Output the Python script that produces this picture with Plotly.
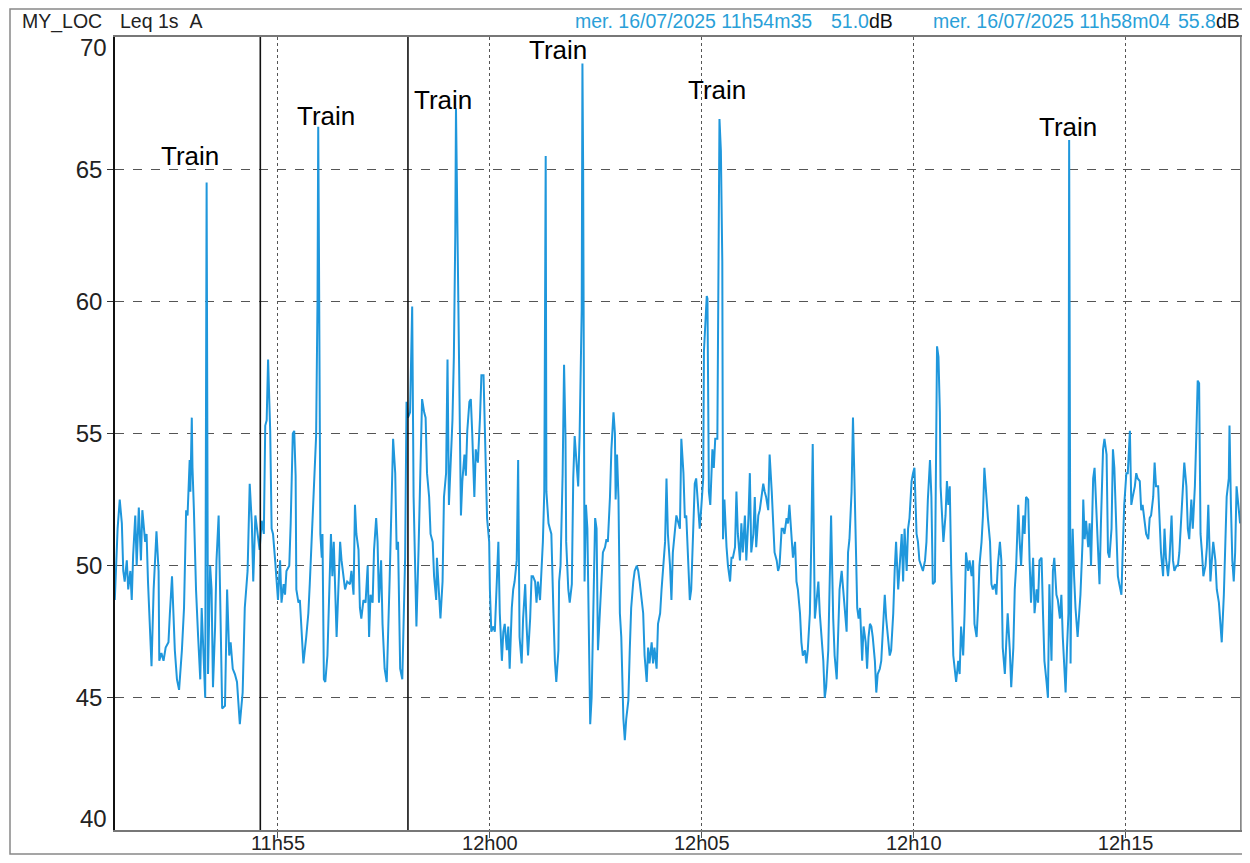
"""
Leq 1s A trace at MY_LOC, 16/07/2025, with two cursors and train pass-bys.
Values read off a printed/scanned sound level meter report.
"""

import pandas as pd
import plotly.graph_objects as go

DAY = "2025-07-16"
T0 = pd.Timestamp(f"{DAY} 11:51:00")

# seconds after 11:51:00 / Leq 1s in dB(A), split into blocks of ~4.5 minutes
t_a = [9, 13, 16, 19, 21, 23, 26, 28, 31, 33, 35, 38, 40, 43, 46, 48, 52, 54, 56, 59,
       61, 64, 66, 68, 71, 72, 75, 78, 81, 85, 87, 90, 92, 94, 97, 100, 104, 107, 110, 112,
       115, 116, 118, 119, 121, 124, 127, 130, 132, 134, 137, 139, 141, 144, 146, 148, 151, 153, 156, 158,
       161, 165, 168, 171, 173, 176, 179, 182, 186, 190, 193, 197, 200, 203, 205, 208, 211, 214, 217, 220,
       222, 224, 226, 229, 231, 233, 236, 238, 240, 243, 245, 248, 250, 252, 256, 258, 261, 263, 265, 266,
       269]
leq_a = [48.7, 51.4, 52.5, 51.6, 49.8, 49.4, 50.2, 49.1, 49.8, 48.7, 50.4, 51.9, 50.0, 52.2, 50.2, 52.1, 50.9, 51.2, 49.4, 47.3,
         46.2, 49.1, 50.5, 51.3, 49.8, 46.4, 46.7, 46.4, 46.9, 47.1, 48.2, 49.6, 48.2, 46.8, 45.7, 45.3, 46.8, 48.4, 52.1, 51.9,
         54.0, 52.8, 55.6, 53.7, 52.1, 49.1, 47.3, 45.7, 48.4, 46.8, 45.0, 64.5, 45.9, 50.0, 49.1, 45.4, 47.7, 50.2, 51.9, 49.1,
         44.6, 44.7, 49.1, 46.6, 47.1, 46.1, 45.9, 45.6, 44.0, 45.2, 48.4, 49.8, 53.1, 51.6, 49.4, 51.9, 51.3, 50.6, 51.7, 51.2,
         55.3, 55.5, 57.8, 55.1, 51.4, 51.2, 50.2, 49.6, 48.7, 50.2, 48.6, 49.3, 48.9, 49.8, 50.0, 51.6, 55.0, 55.1, 53.4, 49.1,
         48.6]

t_b = [271, 276, 280, 283, 285, 288, 291, 294, 296, 297, 298, 300, 302, 303, 305, 307, 310, 312, 315, 317,
       319, 323, 325, 328, 330, 332, 335, 338, 342, 344, 347, 349, 351, 354, 356, 358, 361, 364, 367, 369,
       371, 374, 376, 379, 381, 383, 386, 388, 391, 394, 396, 398, 401, 403, 406, 408, 410, 413, 416, 420,
       422, 424, 427, 430, 432, 434, 436, 439, 442, 444, 447, 449, 451, 454, 456, 459, 461, 464, 465, 468,
       470, 473, 475, 478, 480, 482, 485, 487, 489, 491, 492, 494, 497, 499, 501, 504, 506, 508, 511, 513,
       515, 518, 520, 523, 526, 528, 531, 533, 536, 539]
leq_b = [48.7, 46.3, 47.3, 48.2, 49.3, 51.1, 53.0, 54.9, 60.1, 66.6, 62.0, 51.2, 50.3, 51.2, 45.7, 45.6, 46.6, 48.2, 51.2, 49.6,
         50.9, 47.3, 49.1, 50.9, 50.2, 49.8, 49.1, 49.4, 49.3, 49.8, 48.9, 52.3, 51.2, 50.6, 48.4, 48.0, 48.7, 48.6, 50.0, 47.3,
         48.9, 48.6, 50.6, 51.8, 50.9, 48.6, 50.2, 47.8, 46.1, 45.6, 48.0, 49.4, 52.6, 54.8, 53.5, 50.6, 50.9, 46.1, 45.7, 50.3,
         56.2, 55.6, 55.8, 59.8, 52.6, 50.2, 47.7, 50.6, 54.4, 56.3, 55.8, 55.6, 53.5, 52.6, 51.2, 50.9, 49.6, 48.7, 50.3, 48.9,
         48.0, 49.4, 52.6, 53.5, 57.8, 52.3, 54.6, 55.5, 57.9, 62.5, 67.3, 62.2, 54.8, 51.9, 53.2, 54.2, 53.4, 55.1, 56.2, 56.3,
         55.0, 52.6, 54.4, 53.9, 55.6, 57.2, 57.2, 55.1, 51.8, 50.9]

t_c = [540, 542, 545, 547, 549, 552, 554, 557, 559, 561, 564, 566, 568, 571, 573, 575, 578, 580, 582, 585,
       587, 590, 592, 594, 597, 599, 601, 604, 606, 608, 611, 613, 615, 617, 619, 620, 623, 625, 627, 630,
       632, 634, 637, 638, 640, 643, 645, 647, 648, 651, 653, 656, 658, 660, 663, 665, 667, 670, 671, 672,
       674, 676, 678, 680, 682, 684, 686, 689, 691, 693, 696, 698, 700, 703, 705, 707, 710, 712, 715, 717,
       718, 720, 722, 724, 726, 729, 731, 733, 736, 738, 740, 743, 745, 748, 750, 752, 755, 757, 759, 762,
       764, 766, 769, 771, 773, 776, 778, 781, 783, 785, 788, 790, 792, 795, 797, 799, 802, 804, 806]
leq_c = [49.1, 47.5, 47.7, 47.5, 49.1, 50.9, 48.2, 46.4, 47.5, 47.8, 46.8, 47.7, 46.1, 48.4, 49.1, 49.4, 50.2, 54.0, 47.3, 46.3,
         48.0, 49.3, 47.7, 46.6, 48.0, 49.6, 49.6, 49.4, 48.6, 49.4, 48.7, 49.8, 50.9, 52.8, 65.5, 52.8, 51.6, 51.4, 51.2, 48.2,
         46.4, 45.6, 46.8, 49.4, 50.0, 53.5, 57.6, 54.9, 50.9, 49.1, 48.6, 49.3, 53.3, 54.9, 53.7, 53.0, 54.9, 59.7, 69.0, 65.0,
         49.4, 52.3, 51.4, 48.2, 44.0, 45.0, 48.2, 51.8, 51.4, 46.8, 48.4, 49.8, 50.5, 50.7, 51.0, 50.9, 52.6, 54.4, 55.8, 55.0,
         52.5, 54.2, 52.6, 48.2, 47.3, 44.2, 43.4, 44.2, 44.9, 46.8, 48.4, 49.4, 49.8, 50.0, 49.8, 49.4, 48.7, 48.2, 46.6, 45.6,
         46.9, 46.3, 47.1, 46.3, 46.9, 46.1, 47.8, 48.2, 49.1, 49.8, 50.9, 53.3, 51.2, 50.0, 48.7, 50.5, 51.4, 51.9, 51.7]

t_d = [809, 811, 814, 816, 818, 821, 823, 825, 828, 830, 832, 835, 837, 839, 842, 843, 845, 847, 848, 850,
       852, 855, 857, 859, 862, 864, 865, 867, 869, 870, 872, 875, 877, 880, 882, 884, 887, 889, 891, 894,
       896, 898, 901, 903, 906, 908, 910, 913, 915, 917, 920, 922, 924, 927, 929, 931, 934, 936, 939, 941,
       943, 946, 948, 950, 953, 955, 957, 960, 962, 964, 967, 969, 972, 974, 976, 979, 981, 983, 986, 988,
       990, 993, 995, 997, 1000, 1002, 1005, 1007, 1009, 1012, 1014, 1016, 1019, 1021, 1023, 1026, 1028, 1031, 1033, 1035,
       1038, 1040, 1042, 1045, 1047, 1049, 1052, 1054, 1056, 1058, 1060, 1062, 1064, 1067, 1069, 1072, 1074, 1076]
leq_d = [51.4, 54.8, 53.5, 51.8, 51.9, 50.0, 48.7, 49.1, 51.8, 53.1, 53.3, 51.9, 51.4, 52.1, 53.3, 58.1, 59.0, 60.2, 60.1, 52.8,
         52.3, 54.4, 53.7, 54.8, 54.8, 62.0, 66.9, 65.7, 61.5, 51.0, 52.5, 50.7, 50.0, 49.4, 50.3, 50.3, 50.7, 52.8, 51.2, 50.2,
         51.6, 50.5, 51.9, 50.2, 51.8, 53.5, 50.5, 51.2, 52.6, 50.7, 51.9, 52.1, 52.6, 53.1, 52.8, 52.6, 52.1, 54.2, 52.8, 51.6,
         50.5, 50.2, 49.8, 50.0, 51.4, 51.4, 51.2, 51.8, 51.6, 52.3, 50.9, 50.3, 50.9, 49.4, 49.1, 48.2, 47.1, 46.6, 46.8, 46.3,
         46.8, 48.2, 50.9, 54.6, 48.0, 48.7, 49.4, 48.2, 47.5, 46.4, 45.0, 45.4, 46.8, 49.1, 51.9, 48.0, 46.6, 45.7, 47.3, 49.1,
         49.8, 49.1, 48.4, 47.5, 50.5, 51.0, 52.8, 55.6, 53.3, 50.0, 48.4, 48.0, 48.4, 46.4, 47.7, 47.1, 46.1, 47.3]

t_e = [1078, 1080, 1082, 1085, 1087, 1089, 1092, 1094, 1097, 1099, 1101, 1104, 1106, 1108, 1111, 1113, 1115, 1118, 1120, 1123,
       1125, 1127, 1130, 1132, 1134, 1137, 1139, 1141, 1144, 1146, 1148, 1151, 1153, 1156, 1158, 1160, 1163, 1165, 1167, 1170,
       1172, 1173, 1175, 1177, 1178, 1180, 1182, 1185, 1187, 1189, 1191, 1193, 1196, 1198, 1200, 1203, 1205, 1207, 1210, 1212,
       1214, 1217, 1219, 1222, 1224, 1226, 1229, 1231, 1233, 1236, 1238, 1240, 1243, 1245, 1248, 1250, 1252, 1255, 1257, 1259,
       1262, 1264, 1266, 1269, 1271, 1273, 1276, 1278, 1281, 1283, 1285, 1288, 1290, 1292, 1295, 1297, 1299, 1302, 1304, 1306,
       1309, 1311, 1314, 1316, 1318, 1321, 1323, 1325, 1328, 1330, 1332, 1335, 1337, 1339, 1342, 1344]
leq_e = [47.8, 47.7, 47.3, 46.4, 45.2, 45.9, 46.1, 46.4, 47.7, 48.9, 48.0, 47.3, 46.6, 46.8, 48.2, 49.8, 50.9, 49.1, 50.0, 51.2,
         49.4, 51.4, 49.8, 51.4, 51.8, 53.2, 53.5, 53.7, 51.2, 50.9, 50.2, 50.0, 49.8, 50.2, 50.9, 52.5, 54.0, 52.6, 49.3, 49.4,
         54.4, 58.3, 57.9, 55.8, 53.0, 51.6, 50.9, 51.9, 53.2, 52.3, 53.0, 50.0, 46.6, 46.1, 45.6, 46.4, 45.9, 47.7, 46.6, 48.2,
         50.5, 49.8, 50.2, 49.6, 50.2, 47.8, 47.3, 48.4, 50.0, 50.9, 51.9, 53.7, 52.3, 51.8, 50.9, 49.3, 49.1, 49.3, 48.9, 50.0,
         50.9, 50.2, 46.9, 45.9, 47.1, 48.2, 46.8, 45.4, 46.9, 49.1, 50.0, 52.3, 50.9, 50.0, 51.9, 51.2, 52.6, 52.5, 50.2, 48.6,
         50.3, 48.2, 49.1, 48.6, 50.2, 50.3, 48.2, 46.4, 45.6, 45.0, 49.3, 46.4, 49.8, 50.3, 48.9, 48.7]

t_f = [1347, 1349, 1351, 1354, 1355, 1357, 1359, 1360, 1362, 1363, 1365, 1367, 1369, 1372, 1374, 1376, 1379, 1380, 1382, 1384,
       1387, 1389, 1391, 1394, 1396, 1398, 1401, 1403, 1405, 1408, 1410, 1413, 1415, 1417, 1420, 1422, 1424, 1427, 1429, 1431,
       1434, 1436, 1438, 1441, 1443, 1446, 1448, 1450, 1453, 1455, 1457, 1460, 1462, 1464, 1467, 1469, 1472, 1474, 1476, 1479,
       1481, 1483, 1486, 1488, 1490, 1493, 1495, 1497, 1500, 1502, 1505, 1507, 1509, 1512, 1514, 1516, 1519, 1521, 1523, 1526,
       1528, 1530, 1533, 1535, 1538, 1540, 1542, 1544, 1546, 1548, 1550, 1553, 1555, 1557, 1560, 1562, 1564, 1567, 1569, 1572,
       1574, 1576, 1579, 1581, 1583, 1586, 1587, 1589, 1591, 1593, 1595, 1597, 1600, 1602]
leq_f = [48.0, 48.9, 47.3, 45.9, 45.2, 46.9, 48.2, 66.1, 46.3, 49.1, 51.4, 49.6, 48.4, 47.3, 48.2, 48.9, 50.9, 52.5, 51.0, 51.7,
         50.7, 51.6, 50.0, 53.3, 53.7, 52.3, 50.5, 49.3, 51.6, 54.4, 54.8, 54.2, 50.5, 50.3, 51.4, 54.4, 53.7, 51.6, 49.6, 49.3,
         48.9, 50.7, 52.3, 53.5, 53.5, 55.1, 52.3, 52.6, 53.0, 53.5, 53.3, 53.2, 52.1, 52.3, 51.6, 51.2, 51.0, 51.8, 51.9, 52.6,
         53.9, 53.0, 53.0, 51.9, 50.5, 49.6, 51.4, 50.3, 49.6, 50.2, 51.9, 50.2, 49.8, 50.0, 50.0, 50.5, 51.8, 52.6, 53.9, 53.0,
         51.4, 51.0, 52.5, 51.4, 53.0, 54.9, 57.0, 56.9, 51.2, 50.5, 49.6, 50.0, 50.7, 52.3, 49.4, 50.2, 50.9, 50.2, 49.1, 48.6,
         47.8, 47.1, 48.9, 50.9, 52.6, 53.3, 55.3, 52.3, 50.2, 49.4, 50.5, 53.0, 52.1, 51.6]

# cursors shown in the header
cursor_times = ["11:54:35", "11:58:04"]
cursor_values = ["51.0", "55.8"]

# "Train" labels (time of label centre, level of label centre)
train_times = ["11:52:55", "11:56:08", "11:58:53", "12:01:37", "12:05:21", "12:13:38"]
train_levels = [65.5, 67.0, 67.6, 69.5, 68.0, 66.6]

tick_times = ["11:55", "12:00", "12:05", "12:10", "12:15"]
tick_labels = ["11h55", "12h00", "12h05", "12h10", "12h15"]
y_ticks = [45, 50, 55, 60, 65]

# ---------------------------------------------------------------------------

# the page body keeps its 8px margin, so the figure is sized to fit inside it
BODY = 8
W, H = 1250 - 2 * BODY, 863 - 2 * BODY
# wanted plot box on the page
P_L, P_R, P_T, P_B = 115, 1242, 37, 830
L, T = P_L - BODY, P_T - BODY
R, B = W - (P_R - BODY), H - (P_B - BODY)

FONT = "Liberation Sans, Arial, sans-serif"
BLUE = "#1f97dc"
HEAD_BLUE = "#2a9fd8"
GRID = "#555555"


def px(x, y):
    """page pixel -> paper coords"""
    return (x - P_L) / (P_R - P_L), (P_B - y) / (P_B - P_T)


def at(hms):
    return pd.Timestamp(f"{DAY} {hms}")


t_sec = t_a + t_b + t_c + t_d + t_e + t_f
leq = leq_a + leq_b + leq_c + leq_d + leq_e + leq_f
times = T0 + pd.to_timedelta(t_sec, unit="s")

fig = go.Figure()
fig.add_trace(go.Scatter(
    x=times, y=leq, mode="lines",
    line=dict(color=BLUE, width=2),
    showlegend=False, hoverinfo="x+y",
))

# cursors
for c in cursor_times:
    fig.add_shape(type="line", xref="x", yref="paper", x0=at(c), x1=at(c), y0=0, y1=1,
                  line=dict(color="#111111", width=1.6))

# right edge of plot + outer frame (clipped where the page ends)
fig.add_shape(type="line", xref="paper", yref="paper", x0=0.999, x1=0.999, y0=0, y1=1,
              line=dict(color="#777777", width=1.5))
x0, y0 = px(10, 854)
x1, y1 = px(1249, BODY + 1)
fig.add_shape(type="rect", xref="paper", yref="paper", x0=x0, y0=y0, x1=x1, y1=y1,
              line=dict(color="#888888", width=1.5))

ann = []
for tt, lv in zip(train_times, train_levels):
    ann.append(dict(x=at(tt), y=lv, xref="x", yref="y", text="Train", showarrow=False,
                    font=dict(family=FONT, size=26, color="#000000")))

# end labels of the y axis sit inside the frame on the printout
for val, shift in [(70, -10), (40, 12)]:
    ann.append(dict(x=0, y=val, xref="paper", yref="y", text=str(val), showarrow=False,
                    xanchor="right", xshift=-6, yshift=shift,
                    font=dict(family=FONT, size=24, color="#222222")))

# header
head = [
    (20, "MY_LOC", "#222222"),
    (118, "Leq 1s\u00a0\u00a0A", "#222222"),
    (573, f"mer. 16/07/2025 {cursor_times[0].replace(':', 'h', 1).replace(':', 'm')}", HEAD_BLUE),
    (829, cursor_values[0], HEAD_BLUE),
    (867, "dB", "#111111"),
    (931, f"mer. 16/07/2025 {cursor_times[1].replace(':', 'h', 1).replace(':', 'm')}", HEAD_BLUE),
    (1176, cursor_values[1], HEAD_BLUE),
    (1214, "dB", "#111111"),
]
for hx, txt, col in head:
    ax, ay = px(hx, 21)
    ann.append(dict(x=ax, y=ay, xref="paper", yref="paper", text=txt, showarrow=False,
                    xanchor="left", yanchor="middle",
                    font=dict(family=FONT, size=19.5, color=col)))

fig.update_layout(
    width=W, height=H,
    margin=dict(l=L, r=R, t=T, b=B, pad=0),
    paper_bgcolor="white", plot_bgcolor="white",
    annotations=ann,
    xaxis=dict(
        type="date", automargin=False,
        range=[T0 + pd.Timedelta(seconds=9.3), T0 + pd.Timedelta(seconds=1604.7)],
        tickvals=[at(tk) for tk in tick_times], ticktext=tick_labels,
        showgrid=True, gridcolor=GRID, griddash="dot", gridwidth=1,
        showline=True, linecolor="#777777", linewidth=1.5, mirror=True,
        ticks="outside", ticklen=6, tickcolor=GRID,
        ticklabelstandoff=-12,
        tickfont=dict(family=FONT, size=20, color="#222222"),
        zeroline=False,
    ),
    yaxis=dict(
        range=[40, 70], automargin=False,
        tickvals=y_ticks, ticktext=[str(v) for v in y_ticks],
        showgrid=True, gridcolor=GRID, griddash="dash", gridwidth=1,
        showline=True, linecolor="#111111", linewidth=1.6,
        ticks="outside", ticklen=6, tickcolor="#333333",
        tickfont=dict(family=FONT, size=24, color="#222222"),
        zeroline=False,
    ),
)

fig.write_html("out.html")
